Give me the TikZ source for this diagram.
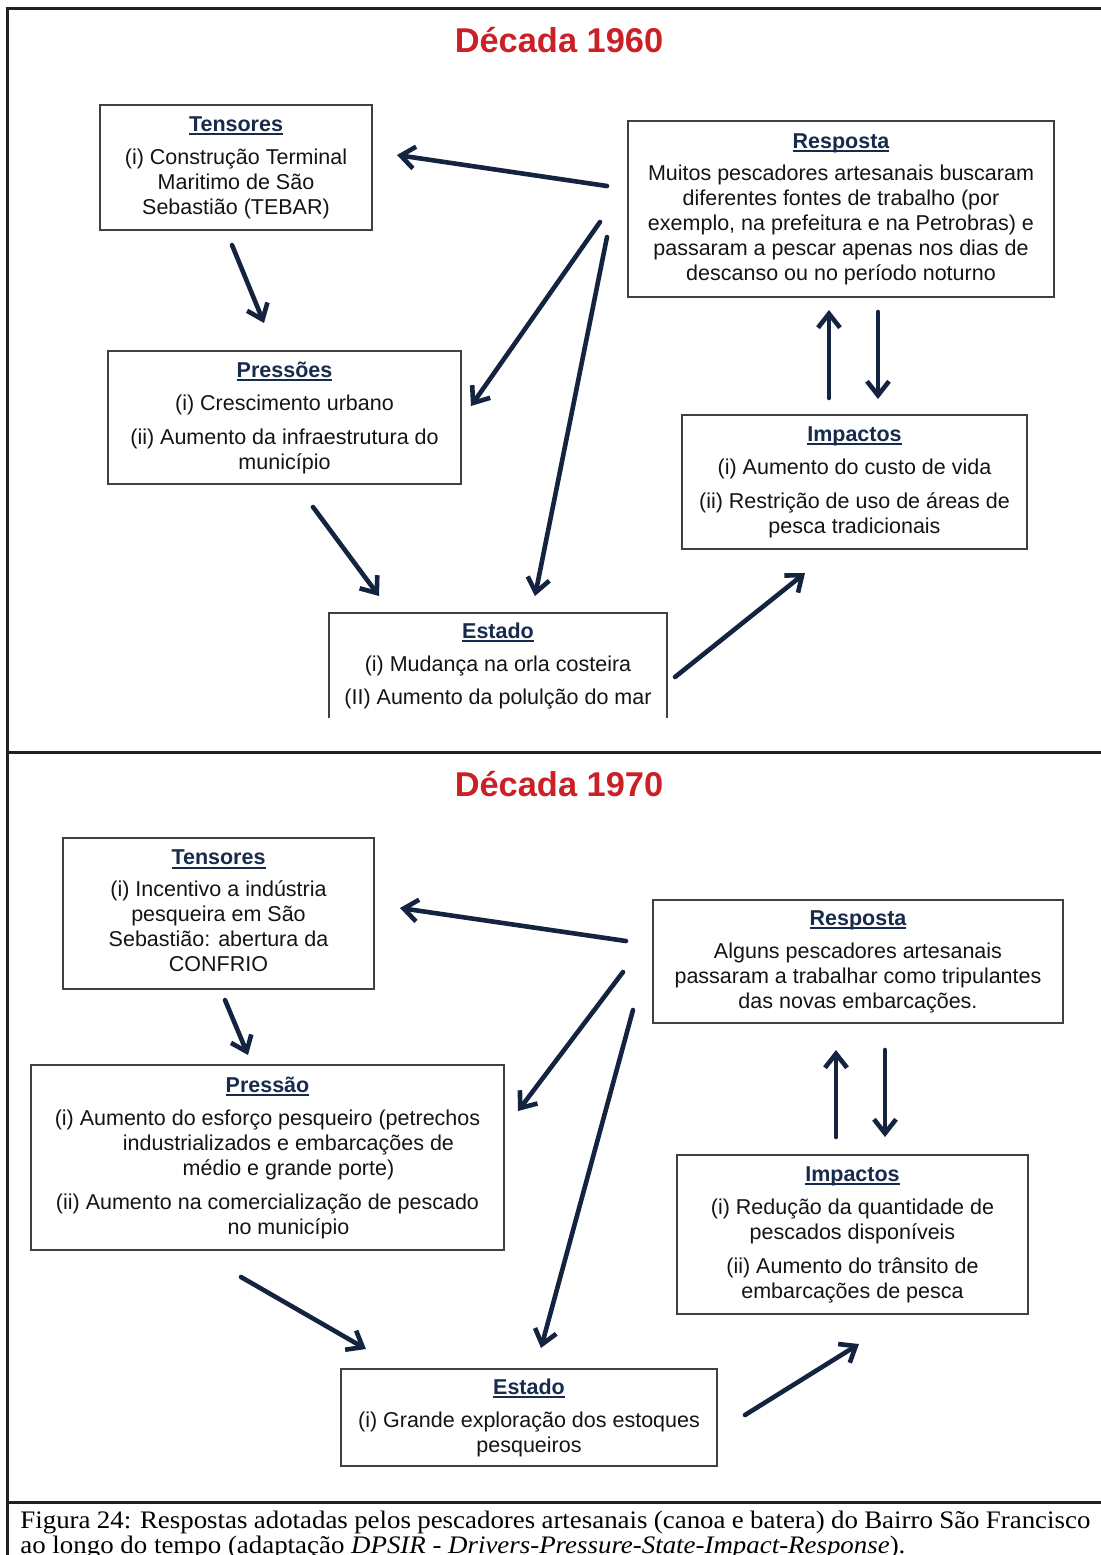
\documentclass[tikz,border=0pt]{standalone}
\usepackage{fontspec}
\setmainfont{Liberation Sans}
\newfontfamily\capfont[FakeStretch=1.067]{Liberation Serif}
\usetikzlibrary{arrows.meta}
\definecolor{titlered}{RGB}{204,32,39}
\definecolor{headnavy}{RGB}{23,43,77}
\definecolor{arrownavy}{RGB}{20,36,64}
\definecolor{boxgray}{RGB}{64,64,64}
\definecolor{framek}{RGB}{35,31,32}
\definecolor{txt}{RGB}{20,20,20}
\newcommand\hd[1]{{\bfseries\color{headnavy}\setbox0\hbox{#1}\rlap{\rule[-1.9pt]{\wd0}{0.9pt}}\box0}}
\tikzset{
  box/.style={draw=boxgray, line width=1pt, inner sep=0pt, align=center, text=txt,
    font={\fontsize{10.75pt}{12.5pt}\selectfont}},
  openbox/.style={inner sep=0pt, align=center, text=txt,
    font={\fontsize{10.75pt}{12.5pt}\selectfont}},
  boxline/.style={draw=boxgray, line width=1pt},
  arr/.style={draw=arrownavy, line width=2.3pt, line cap=round,
    -{Straight Barb[length=7pt,width=11pt]}},
  frameline/.style={draw=framek, line width=1.5pt},
  titletext/.style={text=titlered, inner sep=0pt,
    font={\bfseries\fontsize{17.2pt}{20pt}\selectfont}},
  captext/.style={anchor=base west, inner sep=0pt, text=black,
    font={\capfont\fontsize{12.6pt}{14pt}\selectfont}}
}
\begin{document}
\begin{tikzpicture}[x=0.5pt,y=-0.5pt]
\useasboundingbox (0,0) rectangle (1101,1555);
\fill[white] (0,0) rectangle (1101,1555);
% frame
\draw[frameline] (1101,8) -- (7,8) -- (7,1555);
\draw[frameline] (7,752) -- (1101,752);
\draw[frameline] (7,1502) -- (1101,1502);

% titles
\node[titletext] (d60) at (559,40) {Década 1960};
\node[titletext] (d70) at (559,784) {Década 1970};

% ---- 1960 ----
\node[box, minimum width=136pt, minimum height=62.5pt] (t1) at (236,167.5)
 {\hd{Tensores}\\[4pt] (i) Construção Terminal\\ Maritimo de São\\ Sebastião (TEBAR)};
\node[box, minimum width=213pt, minimum height=88pt] (r1) at (841,209)
 {\hd{Resposta}\\[3.5pt] Muitos pescadores artesanais buscaram\\ diferentes fontes de trabalho (por\\ exemplo, na prefeitura e na Petrobras) e\\ passaram a pescar apenas nos dias de\\ descanso ou no período noturno};
\node[box, minimum width=176.5pt, minimum height=66.5pt] (p1) at (284.5,417.5)
 {\hd{Pressões}\\[4pt] (i) Crescimento urbano\\[4.5pt] (ii) Aumento da infraestrutura do\\ município};
\node[box, minimum width=172.5pt, minimum height=67pt] (i1) at (854.5,482)
 {\hd{Impactos}\\[4pt] (i) Aumento do custo de vida\\[4.5pt] (ii) Restrição de uso de áreas de\\ pesca tradicionais};
\node[openbox, minimum width=169pt, minimum height=52.5pt] (e1) at (498,665.5)
 {\hd{Estado}\\[4pt] (i) Mudança na orla costeira\\[4pt] (II) Aumento da polulção do mar};
\draw[boxline] (e1.south west) |- (e1.north east) -- (e1.south east);

\coordinate (a1s) at (607,186); \coordinate (a1e) at (397,155);
\coordinate (a2s) at (232,245); \coordinate (a2e) at (264,323);
\coordinate (a3s) at (600,222); \coordinate (a3e) at (471,406);
\coordinate (a4s) at (607,237); \coordinate (a4e) at (535,596);
\coordinate (a5s) at (313,507); \coordinate (a5e) at (379,596);
\coordinate (a6s) at (675,677); \coordinate (a6e) at (805,573);
\coordinate (a7s) at (829,398); \coordinate (a7e) at (829,310);
\coordinate (a8s) at (878,312); \coordinate (a8e) at (878,399);
\foreach \k in {1,...,8} {\draw[arr] (a\k s) -- (a\k e);}

% ---- 1970 ----
\node[box, minimum width=155.5pt, minimum height=75.5pt] (t2) at (218.5,913.5)
 {\hd{Tensores}\\[3.5pt] (i) Incentivo a indústria\\ pesqueira em São\\ Sebastião: abertura da\\ CONFRIO\\[-10pt]\mbox{}};
\node[box, minimum width=205pt, minimum height=61.5pt] (r2) at (858,961.5)
 {\hd{Resposta}\\[4pt] Alguns pescadores artesanais\\ passaram a trabalhar como tripulantes\\ das novas embarcações.};
\node[box, minimum width=236.5pt, minimum height=92.5pt] (p2) at (267.5,1157.5)
 {\hd{Pressão}\\[4pt] (i) Aumento do esforço pesqueiro (petrechos\\ \hspace*{21pt}industrializados e embarcações de\\ \hspace*{21pt}médio e grande porte)\\[4.5pt] (ii) Aumento na comercialização de pescado\\ \hspace*{21pt}no município};
\node[box, minimum width=175.5pt, minimum height=79.5pt] (i2) at (852.5,1234.5)
 {\hd{Impactos}\\[4pt] (i) Redução da quantidade de\\ pescados disponíveis\\[4.5pt] (ii) Aumento do trânsito de\\ embarcações de pesca};
\node[box, minimum width=188pt, minimum height=48.5pt] (e2) at (529,1417.5)
 {\hd{Estado}\\[4pt] (i) Grande exploração dos estoques\\ pesqueiros};

\coordinate (b1s) at (626,941); \coordinate (b1e) at (400,908);
\coordinate (b2s) at (225,1000); \coordinate (b2e) at (248,1055);
\coordinate (b3s) at (623,972); \coordinate (b3e) at (518,1111);
\coordinate (b4s) at (633,1010); \coordinate (b4e) at (541,1348);
\coordinate (b5s) at (241,1277); \coordinate (b5e) at (366,1349);
\coordinate (b6s) at (745,1415); \coordinate (b6e) at (859,1344);
\coordinate (b7s) at (836,1137); \coordinate (b7e) at (836,1050);
\coordinate (b8s) at (885,1050); \coordinate (b8e) at (885,1137);
\foreach \k in {1,...,8} {\draw[arr] (b\k s) -- (b\k e);}

% caption
\node[captext] (cap1) at (20,1528) {\makebox[535pt][s]{Figura 24: Respostas adotadas pelos pescadores artesanais (canoa e batera) do Bairro São Francisco}};
\node[captext] (cap2) at (20,1553) {ao longo do tempo (adaptação \textit{DPSIR - Drivers-Pressure-State-Impact-Response}).};
\end{tikzpicture}
\end{document}
